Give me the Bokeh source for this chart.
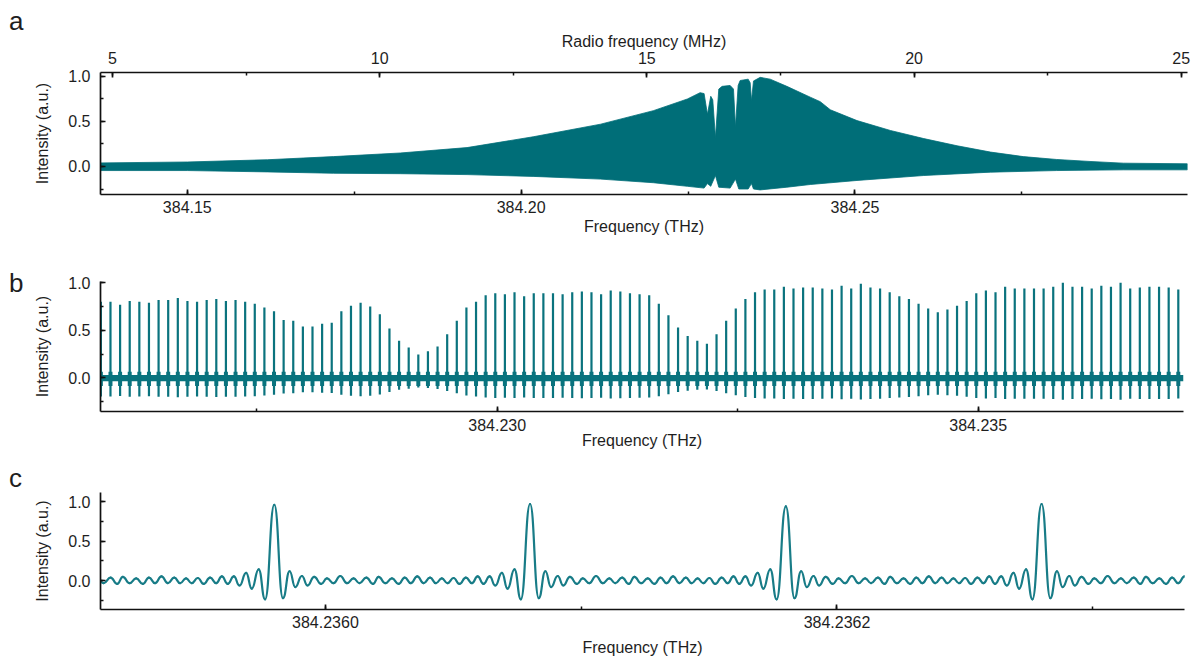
import numpy as np
from bokeh.plotting import figure
from bokeh.layouts import column, row
from bokeh.models import Range1d, LinearAxis, SingleIntervalTicker, PrintfTickFormatter, Div
from bokeh.embed import file_html
from bokeh.resources import INLINE

FONT = "Liberation Sans"
TXT = "#1e1e1e"
AX = "#111111"

# ---------------- data ----------------
# (a) envelope of the dense dual-comb spectrum (THz, a.u.)
a_up_freq = [384.1370, 384.1500, 384.1620, 384.1719, 384.1819, 384.1919, 384.2018, 384.2119,
             384.2198, 384.2249, 384.2268, 384.2274, 384.2279, 384.2284, 384.2287, 384.2291,
             384.2296, 384.2301, 384.2313, 384.2318, 384.2321, 384.2325, 384.2328, 384.2340,
             384.2343, 384.2345, 384.2348, 384.2358, 384.2373, 384.2398, 384.2433, 384.2448,
             384.2463, 384.2503, 384.2553, 384.2603, 384.2653, 384.2703, 384.2752, 384.2802,
             384.2852, 384.2902, 384.2998]
a_upper = [0.04, 0.05, 0.075, 0.11, 0.15, 0.21, 0.33, 0.47,
           0.62, 0.75, 0.82, 0.81, 0.58, 0.78, 0.74, 0.32,
           0.86, 0.89, 0.90, 0.86, 0.44, 0.90, 0.955, 0.97,
           0.93, 0.73, 0.95, 0.99, 0.97, 0.89, 0.77, 0.72,
           0.63, 0.51, 0.40, 0.31, 0.23, 0.16, 0.11, 0.078,
           0.056, 0.037, 0.03]
a_lo_freq = [384.1370, 384.1500, 384.1620, 384.1719, 384.1819, 384.1919, 384.2018, 384.2119,
             384.2198, 384.2249, 384.2274, 384.2279, 384.2284, 384.2291, 384.2296, 384.2313,
             384.2321, 384.2326, 384.2340, 384.2345, 384.2348, 384.2358, 384.2398, 384.2433,
             384.2503, 384.2603, 384.2703, 384.2802, 384.2902, 384.2998]
a_lower = [-0.045, -0.045, -0.06, -0.075, -0.08, -0.09, -0.11, -0.14,
           -0.18, -0.22, -0.24, -0.19, -0.22, -0.10, -0.23, -0.24,
           -0.14, -0.25, -0.25, -0.19, -0.25, -0.26, -0.23, -0.20,
           -0.155, -0.10, -0.063, -0.045, -0.037, -0.037]

# (b) resolved comb lines: first line, line spacing (THz) and line heights
b_first_line = 384.22588
b_line_spacing = 0.0001
b_heights = [0.80, 0.80, 0.77, 0.81, 0.80, 0.79, 0.82, 0.82, 0.84, 0.81,
             0.80, 0.82, 0.83, 0.81, 0.82, 0.80, 0.78, 0.74, 0.70, 0.61,
             0.60, 0.54, 0.54, 0.57, 0.58, 0.70, 0.76, 0.79, 0.75, 0.67,
             0.52, 0.39,
             0.32, 0.245, 0.28, 0.33, 0.46, 0.60, 0.74, 0.80, 0.87, 0.89,
             0.88, 0.90, 0.86, 0.89, 0.89, 0.89, 0.88, 0.90, 0.91, 0.90,
             0.88, 0.92, 0.91, 0.89, 0.88, 0.87, 0.78, 0.66, 0.53, 0.44,
             0.39, 0.36, 0.46, 0.60, 0.73, 0.83, 0.90, 0.93, 0.93, 0.96,
             0.94,
             0.95, 0.95, 0.94, 0.93, 0.97, 0.94, 0.99, 0.95, 0.94, 0.90,
             0.86, 0.83, 0.78, 0.73, 0.69, 0.72, 0.76, 0.81, 0.89, 0.92,
             0.90, 0.96, 0.94, 0.94, 0.94, 0.94, 0.96, 1.00, 0.96, 0.96,
             0.94, 0.97, 0.96, 1.00, 0.94, 0.95, 0.96, 0.96, 0.95, 0.93]
b_noise = [-0.035, 0.03]          # baseline noise band
b_burst = [-0.085, 0.065]         # local ringing at each line foot
b_sidelobe = [0.06, 0.17]         # negative side-lobe depth: offset, fraction of height

# (c) four comb lines with their side lobes
c_peak_freq = [384.23598, 384.23608, 384.23618, 384.23628]
c_peak_height = [0.96, 0.97, 0.94, 0.97]
c_spacing_thz = 0.0001
c_lobe_offset_mhz = [3.4, 6.0, 8.2, 10.8, 13.0, 15.6, 18.3, 20.6, 23.2, 25.8,
                     28.4, 31.0, 33.3, 36.0, 38.6, 40.8, 43.4, 46.0, 48.6, 51.0,
                     53.4, 55.9, 58.4, 60.9, 63.2, 65.5, 67.7, 70.1, 72.4, 74.9,
                     77.3, 79.5, 81.8, 84.2, 86.4, 89.0, 91.2, 93.9, 96.4]
c_lobe_value = [-0.22, 0.12, -0.08, 0.06, -0.06, 0.05, -0.04, 0.03, -0.03, 0.06,
                -0.03, 0.03, -0.03, 0.04, -0.04, 0.05, -0.03, 0.03, -0.04, 0.04,
                -0.03, 0.055, -0.03, 0.04, -0.03, 0.03, -0.03, 0.035, -0.04, 0.04,
                -0.03, 0.055, -0.04, 0.055, -0.06, 0.10, -0.10, 0.145, -0.235]

# axis ticks / labels
a_thz_ticks = 0.05
a_rf_ticks = 5
b_thz_ticks = 0.005
c_thz_ticks = 0.0002
y_ticks = 0.5
panel_letters = ["a", "b", "c"]

# ---------------- helpers ----------------
W = 1195
LW = 30            # width of the strip that carries the panel letter


def style_axis(ax, tick_standoff, label_standoff):
    ax.axis_line_color = AX
    ax.axis_line_width = 1.7
    ax.major_tick_line_color = AX
    ax.major_tick_line_width = 1.7
    ax.minor_tick_line_color = AX
    ax.minor_tick_line_width = 1.5
    ax.major_tick_in = 5
    ax.major_tick_out = 0
    ax.minor_tick_in = 3
    ax.minor_tick_out = 0
    ax.major_label_text_font = FONT
    ax.major_label_text_font_size = "16px"
    ax.major_label_text_color = TXT
    ax.axis_label_text_font = FONT
    ax.axis_label_text_font_size = "16px"
    ax.axis_label_text_font_style = "normal"
    ax.axis_label_text_color = TXT
    ax.major_label_standoff = tick_standoff
    ax.axis_label_standoff = label_standoff


def make_fig(h, xr, yr, bt, bb, br):
    p = figure(width=W - LW, height=h, x_range=xr, y_range=yr,
               output_backend="svg", toolbar_location=None,
               x_axis_type=None, y_axis_type=None,
               min_border_left=100 - LW, min_border_right=br,
               min_border_top=bt, min_border_bottom=bb)
    p.outline_line_color = None
    p.background_fill_color = "white"
    p.border_fill_color = "white"
    return p


def letter_strip(h, text, top_px):
    html = ('<div style="position:relative; left:9px; top:%dpx; margin:0; '
            'font-family:\'%s\'; font-size:26px; line-height:26px; color:%s;">%s</div>'
            % (top_px, FONT, TXT, text))
    return Div(text=html, width=LW, height=h, margin=0)


def add_y(p):
    ax = LinearAxis(axis_label="Intensity (a.u.)",
                    ticker=SingleIntervalTicker(interval=y_ticks, num_minor_ticks=2),
                    formatter=PrintfTickFormatter(format="%.1f"))
    style_axis(ax, 10, 14)
    p.add_layout(ax, "left")


def add_x(p, interval, fmt, tstand, lstand):
    ax = LinearAxis(axis_label="Frequency (THz)",
                    ticker=SingleIntervalTicker(interval=interval, num_minor_ticks=2),
                    formatter=PrintfTickFormatter(format=fmt))
    style_axis(ax, tstand, lstand)
    p.add_layout(ax, "below")


# ---------------- panel a ----------------
HA = 240
xa = Range1d(384.1370, 384.2998)
ya = Range1d(-0.311, 1.044)
pa = make_fig(HA, xa, ya, 72, 46, 8)
pa.extra_x_ranges = {"rf": Range1d(4.775, 25.118)}
top = LinearAxis(x_range_name="rf", axis_label="Radio frequency (MHz)",
                 ticker=SingleIntervalTicker(interval=a_rf_ticks, num_minor_ticks=2),
                 formatter=PrintfTickFormatter(format="%d"))
style_axis(top, 9, -1)
pa.add_layout(top, "above")
add_y(pa)
add_x(pa, a_thz_ticks, "%.2f", 6, 2)
pa.patch(a_up_freq + a_lo_freq[::-1], a_upper + a_lower[::-1],
         fill_color="#006e78", line_color="#006e78", line_width=0.8)

# ---------------- panel b ----------------
HB = 212
xb = Range1d(384.2258763, 384.2371341)
yb = Range1d(-0.354, 1.014)
pb = make_fig(HB, xb, yb, 41, 41, 12)
add_y(pb)
add_x(pb, b_thz_ticks, "%.3f", 7, -2)
bh = np.array(b_heights)
bf = b_first_line + b_line_spacing * np.arange(len(bh))
bcol = "#0a737e"
pb.varea(x=[xb.start, xb.end], y1=[b_noise[0]] * 2, y2=[b_noise[1]] * 2, fill_color=bcol)
pb.segment(x0=bf, y0=np.full(len(bf), b_burst[0]), x1=bf, y1=np.full(len(bf), b_burst[1]),
           line_color=bcol, line_width=4)
dips = -(b_sidelobe[0] + b_sidelobe[1] * bh)
pb.segment(x0=bf, y0=dips, x1=bf, y1=bh, line_color=bcol, line_width=2.2)

# ---------------- panel c ----------------
HC = 206
xc = Range1d(384.23591206, 384.23633586)
yc = Range1d(-0.363, 1.115)
pc = make_fig(HC, xc, yc, 40, 47, 11)
add_y(pc)
add_x(pc, c_thz_ticks, "%.4f", 6, 8)
starts = [c_peak_freq[0] - c_spacing_thz] + c_peak_freq
heights = [c_peak_height[0]] + c_peak_height
cx, cy = [], []
for f, h in zip(starts, heights):
    cx.append(f)
    cy.append(h)
    for o, v in zip(c_lobe_offset_mhz, c_lobe_value):
        cx.append(f + o * 1e-6)
        cy.append(v)
cx.append(starts[-1] + c_spacing_thz)
cy.append(heights[-1])
cx = np.array(cx)
cy = np.array(cy)
mid = (cx[:-1] + cx[1:]) / 2
pc.bezier(x0=cx[:-1], y0=cy[:-1], x1=cx[1:], y1=cy[1:],
          cx0=mid, cy0=cy[:-1], cx1=mid, cy1=cy[1:],
          line_color="#187c87", line_width=2.2, line_cap="round")

layout = column(
    row(letter_strip(HA, panel_letters[0], 8), pa, spacing=0),
    row(letter_strip(HB, panel_letters[1], 30), pb, spacing=0),
    row(letter_strip(HC, panel_letters[2], 13), pc, spacing=0),
    spacing=0)
open("out.html", "w").write(file_html(layout, INLINE))
